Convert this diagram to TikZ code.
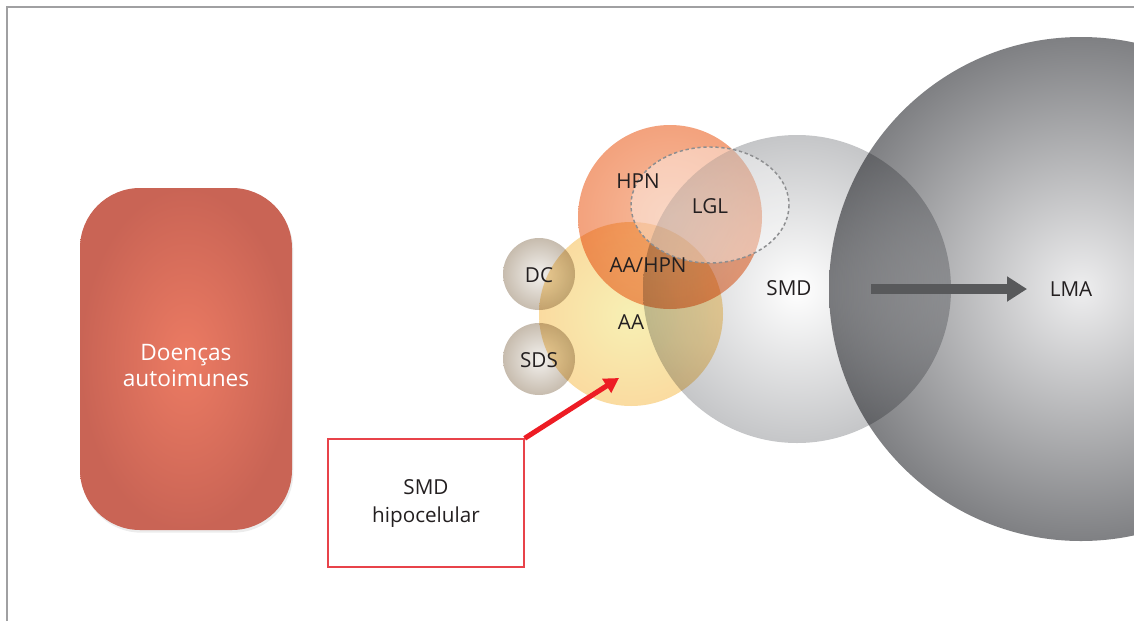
\documentclass[tikz,border=0pt]{standalone}
\usepackage{fontspec}
\setmainfont{Open Sans}
\usetikzlibrary{arrows.meta,shadows,positioning}

\definecolor{txtgray}{RGB}{35,31,32}
\definecolor{framegray}{RGB}{160,160,162}
\definecolor{boxin}{RGB}{236,123,99}
\definecolor{boxout}{RGB}{201,100,85}
\definecolor{smdout}{RGB}{197,198,200}
\definecolor{lmain}{RGB}{238,238,239}
\definecolor{lmaout}{RGB}{127,128,131}
\definecolor{aain}{RGB}{247,240,180}
\definecolor{aaout}{RGB}{250,219,160}
\definecolor{hpnin}{RGB}{247,188,157}
\definecolor{hpnout}{RGB}{243,162,125}
\definecolor{dcin}{RGB}{243,241,238}
\definecolor{dcout}{RGB}{199,188,174}
\definecolor{lglline}{RGB}{141,142,144}
\definecolor{arrgray}{RGB}{88,89,91}
\definecolor{arrred}{RGB}{237,28,36}
\definecolor{boxred}{RGB}{232,67,74}

\tikzset{
  lbl/.style={font=\fontsize{15.5}{21}\selectfont, text=txtgray, inner sep=0pt},
  venn/.style={blend mode=multiply},
}

\begin{document}
\begin{tikzpicture}[x=0.75pt,y=0.75pt,yscale=-1,xscale=1]
        \useasboundingbox (0,0) rectangle (1134,621);

        %Frame
        \draw [framegray, line width=0.8pt] (7,621) -- (7,7) -- (1134,7) ;

        %Shape: Rounded box
        \node [rounded corners=45pt, minimum width=159pt, minimum height=256.5pt, inner color=boxin, outer color=boxout,
               drop shadow={opacity=0.15, shadow xshift=1pt, shadow yshift=-2pt},
               text=white, align=center, font=\fontsize{17}{20}\selectfont] (autoim) at (186,359) {\\[2pt]Doenças\\autoimunes} ;

        %Shape: Circle SMD
        \shade [inner color=white, outer color=smdout] (797,289) circle (154) ;
        %Shape: Circle LMA
        \shade [venn, inner color=lmain, outer color=lmaout] (1081,289) circle (252) ;
        %Shape: Circle AA
        \shade [venn, inner color=aain, outer color=aaout] (631,314) circle (92) ;
        %Shape: Circle HPN
        \shade [venn, inner color=hpnin, outer color=hpnout] (670,217) circle (92) ;
        %Shape: Circle DC
        \shade [venn, inner color=dcin, outer color=dcout] (539,274) circle (36) ;
        %Shape: Circle SDS
        \shade [venn, inner color=dcin, outer color=dcout] (539,359) circle (36) ;
        %Shape: Ellipse LGL
        \draw [lglline, line width=1.1pt, dash pattern={on 2.5pt off 2pt}, fill=white, fill opacity=0.4] (710,205) ellipse (79 and 58) ;

        %Box SMD hipocelular
        \node [draw=boxred, line width=1pt, minimum width=147pt, minimum height=96pt, align=center, lbl, inner sep=2pt] (smdh) at (426,503) {SMD\\hipocelular} ;
        \coordinate (aatip) at (619,378) ;
        \draw [arrred, line width=3.8pt, -{Triangle[length=11pt, width=12pt]}] (smdh.north east) -- (aatip) ;

        %Arrow SMD to LMA
        \coordinate (smdout) at (871,289) ;
        \coordinate (lmaend) at (1027,289) ;
        \draw [arrgray, line width=7.5pt, -{Triangle[length=15pt, width=18pt]}] (smdout) -- (lmaend) ;

        %Labels
        \node [lbl] (hpnlbl) at (638,181) {HPN} ;
        \node [lbl] (lgllbl) at (710,206) {LGL} ;
        \node [lbl] (aahpnlbl) at (648,265) {AA/HPN} ;
        \node [lbl] (aalbl) at (631,322) {AA} ;
        \node [lbl] (dclbl) at (539,275) {DC} ;
        \node [lbl] (sdslbl) at (539,360) {SDS} ;
        \node [lbl] (smdlbl) at (789,288) {SMD} ;
        \node [lbl] (lmalbl) at (1071,289) {LMA} ;
\end{tikzpicture}
\end{document}
